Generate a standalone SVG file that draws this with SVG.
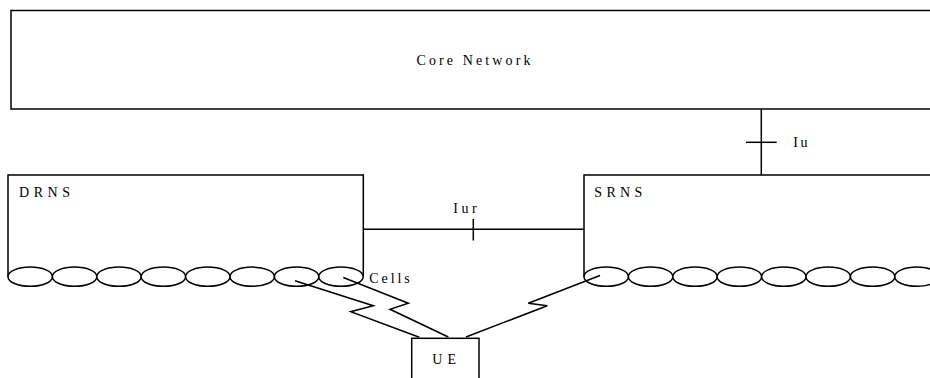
<svg xmlns="http://www.w3.org/2000/svg" width="930" height="378" viewBox="0 0 930 378">
<style>
.ln{fill:none;stroke:#000;stroke-width:1.5}
.bx{fill:#fff;stroke:#000;stroke-width:1.5}
.cell{fill:#fff;stroke:#000;stroke-width:1.5}
.t{font-family:'Liberation Serif','Times New Roman',serif;font-size:14px;fill:#000}
</style>
<defs>
<ellipse id="cell" class="cell" cx="0" cy="0" rx="22.2" ry="9.6"/>
</defs>
<rect width="930" height="378" fill="#fff"/>
<g id="core">
<rect class="bx" x="11" y="10.5" width="930" height="98.5"/>
<text class="t" x="416.5" y="65" textLength="114" lengthAdjust="spacing">Core Network</text>
</g>
<g id="drns">
<path class="ln" d="M8,276.7 V175 H363.3 V276.7"/>
<text class="t" x="19" y="197" textLength="51" lengthAdjust="spacing">DRNS</text>
<use href="#cell" x="30.2" y="276.7"/>
<use href="#cell" x="74.6" y="276.7"/>
<use href="#cell" x="119" y="276.7"/>
<use href="#cell" x="163.4" y="276.7"/>
<use href="#cell" x="207.8" y="276.7"/>
<use href="#cell" x="252.2" y="276.7"/>
<use href="#cell" x="296.6" y="276.7"/>
<use href="#cell" x="341" y="276.7"/>
<text class="t" x="369.3" y="283" textLength="40.5" lengthAdjust="spacing">Cells</text>
</g>
<g id="srns">
<path class="ln" d="M584,276.7 V175 H940"/>
<text class="t" x="594.3" y="197" textLength="48" lengthAdjust="spacing">SRNS</text>
<use href="#cell" x="606.2" y="276.7"/>
<use href="#cell" x="650.6" y="276.7"/>
<use href="#cell" x="695" y="276.7"/>
<use href="#cell" x="739.4" y="276.7"/>
<use href="#cell" x="783.8" y="276.7"/>
<use href="#cell" x="828.2" y="276.7"/>
<use href="#cell" x="872.6" y="276.7"/>
<use href="#cell" x="917" y="276.7"/>
</g>
<g id="ue">
<rect class="bx" x="411.7" y="338.3" width="67.3" height="50"/>
<text class="t" x="432.3" y="364" textLength="23.7" lengthAdjust="spacing">UE</text>
</g>
<g id="connectors">
<line class="ln" x1="761.3" y1="109" x2="761.3" y2="175"/>
<line class="ln" x1="746" y1="142.3" x2="776.7" y2="142.3"/>
<text class="t" x="793.3" y="147" textLength="14.3" lengthAdjust="spacing">Iu</text>
<line class="ln" x1="363.3" y1="229.3" x2="584" y2="229.3"/>
<line class="ln" x1="473.3" y1="219" x2="473.3" y2="240.5"/>
<text class="t" x="453.3" y="213" textLength="23.3" lengthAdjust="spacing">Iur</text>
<polyline class="ln" points="295,280.7 373.3,305.7 350.7,311.7 419.3,337.3"/>
<polyline class="ln" points="343.3,277.5 408.3,303.3 390,309.3 448.3,337"/>
<polyline class="ln" points="600,275.5 528.3,303.3 547.3,305.7 466,337"/>
</g>
</svg>
